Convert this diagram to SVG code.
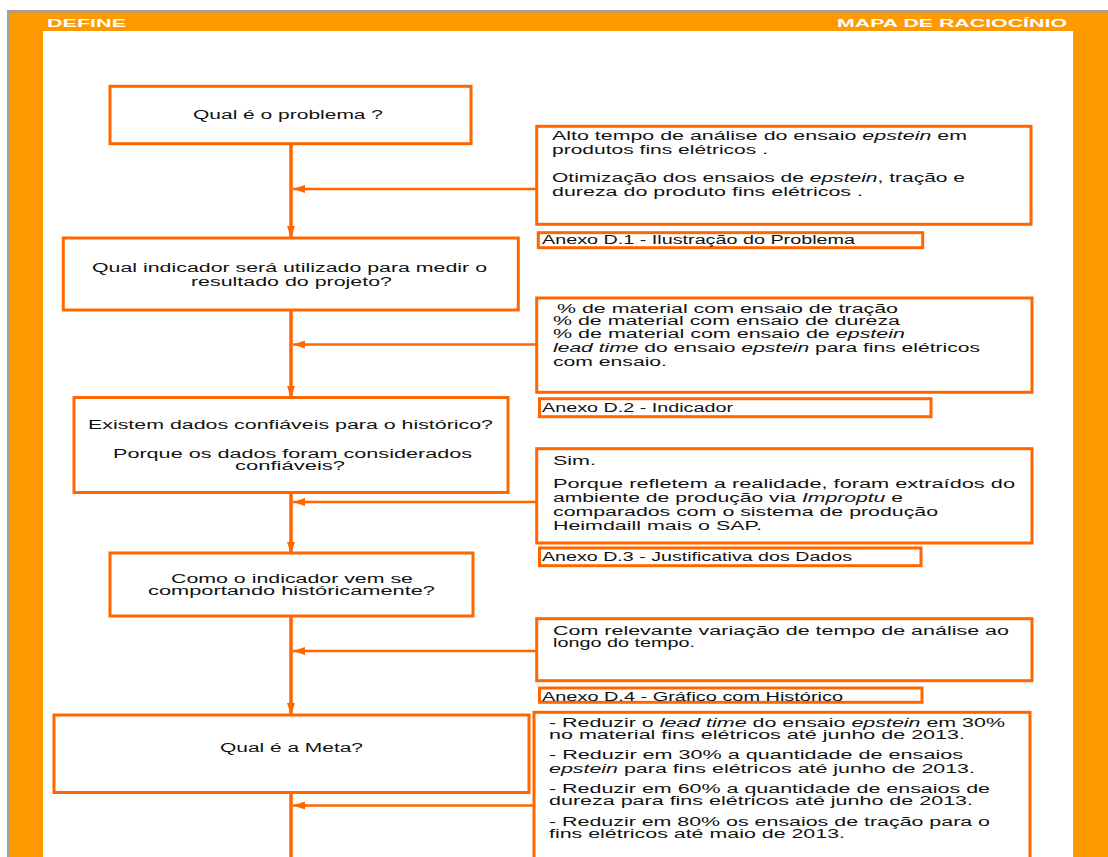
<svg xmlns="http://www.w3.org/2000/svg" width="1108" height="857" viewBox="0 0 1108 857">
  <style>
    .box { fill: #FFFFFF; stroke: #FF6600; stroke-width: 3; }
    .tag { fill: #FFFFFF; stroke: #FF6600; stroke-width: 3; }
    .t { font-family: "Liberation Sans", Arial, sans-serif; font-size: 12px; fill: #111111; }
    .q { font-family: "Liberation Sans", Arial, sans-serif; font-size: 12.5px; fill: #111111; }
    .hd { font-family: "Liberation Sans", Arial, sans-serif; font-size: 11.5px; font-weight: bold; fill: #FFFFFF; }
    .i { font-style: italic; }
    .flow { stroke: #FF6600; stroke-width: 3.5; fill: none; }
    .feed { stroke: #FF6600; stroke-width: 2.5; fill: none; }
  </style>
  <defs>
    <marker id="ah" viewBox="0 0 12 8" refX="12" refY="4" markerWidth="12" markerHeight="8" markerUnits="userSpaceOnUse" orient="auto">
      <path d="M0,0 L12,4 L0,8 z" fill="#FF6600"/>
    </marker>
  </defs>

  <!-- page frame -->
  <g id="frame">
    <rect x="7" y="10" width="1101" height="847" fill="#A0A0A0"/>
    <rect x="9" y="12.5" width="1099" height="844.5" fill="#FF9900"/>
    <rect x="43" y="31" width="1030" height="826" fill="#FFFFFF"/>
    <text class="hd" x="47" y="26.7" textLength="79" lengthAdjust="spacingAndGlyphs">DEFINE</text>
    <text class="hd" x="837" y="26.7" textLength="230" lengthAdjust="spacingAndGlyphs">MAPA DE RACIOCÍNIO</text>
  </g>

  <!-- connectors -->
  <g id="connectors">
    <line class="flow" x1="291" y1="145" x2="291" y2="238" marker-end="url(#ah)"/>
    <line class="flow" x1="291" y1="311" x2="291" y2="398" marker-end="url(#ah)"/>
    <line class="flow" x1="291" y1="494" x2="291" y2="554" marker-end="url(#ah)"/>
    <line class="flow" x1="291" y1="617" x2="291" y2="715" marker-end="url(#ah)"/>
    <line class="flow" x1="291" y1="794" x2="291" y2="857"/>
    <line class="feed" x1="536" y1="189" x2="293" y2="189" marker-end="url(#ah)"/>
    <line class="feed" x1="536" y1="344.5" x2="293" y2="344.5" marker-end="url(#ah)"/>
    <line class="feed" x1="536" y1="502" x2="293" y2="502" marker-end="url(#ah)"/>
    <line class="feed" x1="536" y1="651" x2="293" y2="651" marker-end="url(#ah)"/>
    <line class="feed" x1="533" y1="805.5" x2="293" y2="805.5" marker-end="url(#ah)"/>
  </g>

  <!-- questions -->
  <g id="q-problema">
    <rect class="box" x="110" y="86.3" width="361" height="57.4"/>
    <text class="q" x="193" y="119" textLength="190" lengthAdjust="spacingAndGlyphs">Qual é o problema ?</text>
  </g>
  <g id="q-indicador">
    <rect class="box" x="63.3" y="238" width="455" height="72"/>
    <text class="q" x="92" y="272" textLength="395" lengthAdjust="spacingAndGlyphs">Qual indicador será utilizado para medir o</text>
    <text class="q" x="191" y="286" textLength="201" lengthAdjust="spacingAndGlyphs">resultado do projeto?</text>
  </g>
  <g id="q-dados">
    <rect class="box" x="74" y="397.5" width="434" height="95"/>
    <text class="q" x="88" y="429" textLength="405" lengthAdjust="spacingAndGlyphs">Existem dados confiáveis para o histórico?</text>
    <text class="q" x="113" y="458" textLength="359" lengthAdjust="spacingAndGlyphs">Porque os dados foram considerados</text>
    <text class="q" x="235" y="470" textLength="110" lengthAdjust="spacingAndGlyphs">confiáveis?</text>
  </g>
  <g id="q-historico">
    <rect class="box" x="110" y="553" width="363" height="63"/>
    <text class="q" x="171" y="583" textLength="242" lengthAdjust="spacingAndGlyphs">Como o indicador vem se</text>
    <text class="q" x="148" y="595" textLength="287" lengthAdjust="spacingAndGlyphs">comportando históricamente?</text>
  </g>
  <g id="q-meta">
    <rect class="box" x="54" y="715" width="475" height="77.5"/>
    <text class="q" x="220" y="752" textLength="143" lengthAdjust="spacingAndGlyphs">Qual é a Meta?</text>
  </g>

  <!-- answers -->
  <g id="a-problema">
    <rect class="box" x="536.7" y="126.3" width="494.3" height="98"/>
    <text class="t" x="552" y="140" textLength="415" lengthAdjust="spacingAndGlyphs">Alto tempo de análise do ensaio <tspan class="i">epstein</tspan> em</text>
    <text class="t" x="552" y="154" textLength="216" lengthAdjust="spacingAndGlyphs">produtos fins elétricos .</text>
    <text class="t" x="552" y="182" textLength="413" lengthAdjust="spacingAndGlyphs">Otimização dos ensaios de <tspan class="i">epstein</tspan>, tração e</text>
    <text class="t" x="552" y="196" textLength="311" lengthAdjust="spacingAndGlyphs">dureza do produto fins elétricos .</text>
  </g>
  <g id="anexo-d1">
    <rect class="tag" x="538.3" y="232.7" width="384.4" height="15"/>
    <text class="t" x="542" y="244" textLength="313" lengthAdjust="spacingAndGlyphs">Anexo D.1 - Ilustração do Problema</text>
  </g>

  <g id="a-indicador">
    <rect class="box" x="536.7" y="298" width="495.3" height="94.3"/>
    <text class="t" x="557" y="313" textLength="341" lengthAdjust="spacingAndGlyphs">% de material com ensaio de tração</text>
    <text class="t" x="553" y="325" textLength="347" lengthAdjust="spacingAndGlyphs">% de material com ensaio de dureza</text>
    <text class="t" x="553" y="338" textLength="352" lengthAdjust="spacingAndGlyphs">% de material com ensaio de <tspan class="i">epstein</tspan></text>
    <text class="t" x="553" y="352" textLength="427" lengthAdjust="spacingAndGlyphs"><tspan class="i">lead time</tspan> do ensaio <tspan class="i">epstein</tspan> para fins elétricos</text>
    <text class="t" x="553" y="366" textLength="114" lengthAdjust="spacingAndGlyphs">com ensaio.</text>
  </g>
  <g id="anexo-d2">
    <rect class="tag" x="539.5" y="398.7" width="391.5" height="18"/>
    <text class="t" x="542" y="412" textLength="191" lengthAdjust="spacingAndGlyphs">Anexo D.2 - Indicador</text>
  </g>

  <g id="a-dados">
    <rect class="box" x="536.7" y="448.7" width="495.3" height="94.3"/>
    <text class="t" x="553" y="465" textLength="43" lengthAdjust="spacingAndGlyphs">Sim.</text>
    <text class="t" x="553" y="488" textLength="462" lengthAdjust="spacingAndGlyphs">Porque refletem a realidade, foram extraídos do</text>
    <text class="t" x="553" y="502" textLength="350" lengthAdjust="spacingAndGlyphs">ambiente de produção via <tspan class="i">Improptu</tspan> e</text>
    <text class="t" x="553" y="516" textLength="385" lengthAdjust="spacingAndGlyphs">comparados com o sistema de produção</text>
    <text class="t" x="553" y="530" textLength="209" lengthAdjust="spacingAndGlyphs">Heimdaill mais o SAP.</text>
  </g>
  <g id="anexo-d3">
    <rect class="tag" x="539.5" y="548" width="381.5" height="17.7"/>
    <text class="t" x="542" y="561" textLength="310" lengthAdjust="spacingAndGlyphs">Anexo D.3 - Justificativa dos Dados</text>
  </g>

  <g id="a-historico">
    <rect class="box" x="536.7" y="618.7" width="495.3" height="62"/>
    <text class="t" x="553" y="635" textLength="456" lengthAdjust="spacingAndGlyphs">Com relevante variação de tempo de análise ao</text>
    <text class="t" x="553" y="647" textLength="142" lengthAdjust="spacingAndGlyphs">longo do tempo.</text>
  </g>
  <g id="anexo-d4">
    <rect class="tag" x="539.5" y="688" width="382.5" height="14.3"/>
    <text class="t" x="542" y="701" textLength="301" lengthAdjust="spacingAndGlyphs">Anexo D.4 - Gráfico com Histórico</text>
  </g>

  <g id="a-meta">
    <rect class="box" x="534" y="712.3" width="496" height="160"/>
    <text class="t" x="549" y="726.5" textLength="456" lengthAdjust="spacingAndGlyphs">- Reduzir o <tspan class="i">lead time</tspan> do ensaio <tspan class="i">epstein</tspan> em 30%</text>
    <text class="t" x="549" y="738.5" textLength="416" lengthAdjust="spacingAndGlyphs">no material fins elétricos até junho de 2013.</text>
    <text class="t" x="549" y="759" textLength="414" lengthAdjust="spacingAndGlyphs">- Reduzir em 30% a quantidade de ensaios</text>
    <text class="t" x="549" y="773" textLength="426" lengthAdjust="spacingAndGlyphs"><tspan class="i">epstein</tspan> para fins elétricos até junho de 2013.</text>
    <text class="t" x="549" y="793" textLength="441" lengthAdjust="spacingAndGlyphs">- Reduzir em 60% a quantidade de ensaios de</text>
    <text class="t" x="549" y="805" textLength="424" lengthAdjust="spacingAndGlyphs">dureza para fins elétricos até junho de 2013.</text>
    <text class="t" x="549" y="826" textLength="441" lengthAdjust="spacingAndGlyphs">- Reduzir em 80% os ensaios de tração para o</text>
    <text class="t" x="549" y="838" textLength="296" lengthAdjust="spacingAndGlyphs">fins elétricos até maio de 2013.</text>
  </g>
</svg>
